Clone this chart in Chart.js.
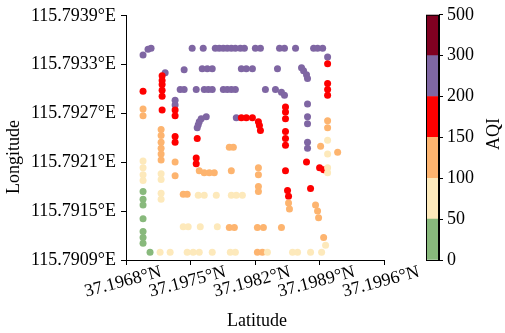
<!DOCTYPE html>
<html>
<head>
<meta charset="utf-8">
<script src="https://cdn.jsdelivr.net/npm/chart.js@4.4.0/dist/chart.umd.min.js"></script>
<style>
  html, body { margin: 0; padding: 0; background: #fff; }
  #wrap { position: relative; width: 505px; height: 333px; }
  #wrap canvas { position: absolute; left: 0; top: 0; }
</style>
</head>
<body>
<div id="wrap">
  <canvas id="scatter" width="505" height="333"></canvas>
  <canvas id="cbar" width="505" height="333"></canvas>
</div>
<script>
// axis ticks
const latTicks = [37.1968, 37.1975, 37.1982, 37.1989, 37.1996];
const lonTicks = [115.7909, 115.7915, 115.7921, 115.7927, 115.7933, 115.7939];

// AQI classes (colorbar boundaries + colors)
const aqiBounds = [0, 50, 100, 150, 200, 300, 500];
const aqiColors = ['#88b97c', '#fde9bb', '#fdb46f', '#fe0000', '#7f66a3', '#800021'];

// sample points per AQI class: [latitude, longitude]
const goodPts = [
  [37.196985, 115.791743], [37.196985, 115.791647], [37.196985, 115.791575], [37.196985, 115.791406],
  [37.196985, 115.791249], [37.196985, 115.791177], [37.196985, 115.791105], [37.197061, 115.790996]
];

const moderatePts = [
  [37.196985, 115.792117], [37.196985, 115.792033], [37.196985, 115.791948], [37.196985, 115.791876],
  [37.197181, 115.791960], [37.197181, 115.791888], [37.197181, 115.791719], [37.197181, 115.791647],
  [37.197584, 115.791695], [37.197649, 115.791695], [37.197780, 115.791695], [37.197943, 115.791695],
  [37.197997, 115.791695], [37.198063, 115.791695],
  [37.197421, 115.791310], [37.197475, 115.791310], [37.197606, 115.791310], [37.197791, 115.791310],
  [37.197170, 115.790996], [37.197279, 115.790996], [37.197464, 115.790996], [37.197529, 115.790996],
  [37.197595, 115.790996], [37.197736, 115.790996], [37.197932, 115.790996], [37.197987, 115.790996],
  [37.198335, 115.790996], [37.198607, 115.790996], [37.198662, 115.790996], [37.198803, 115.790996],
  [37.198923, 115.790996], [37.198966, 115.791081],
  [37.198988, 115.792370], [37.198988, 115.792201], [37.198988, 115.792033], [37.198988, 115.791972]
];

const sensitivePts = [
  [37.196985, 115.792755], [37.196985, 115.792671],
  [37.197181, 115.792502], [37.197181, 115.792430], [37.197181, 115.792346], [37.197181, 115.792273],
  [37.197181, 115.792201], [37.197181, 115.792129],
  [37.197333, 115.792105], [37.197333, 115.791936],
  [37.197921, 115.792285], [37.197965, 115.792285],
  [37.197595, 115.791996], [37.197649, 115.791972], [37.197704, 115.791972], [37.197758, 115.791972],
  [37.197943, 115.791996],
  [37.198237, 115.792033], [37.198237, 115.791948], [37.198237, 115.791804], [37.198237, 115.791743],
  [37.198564, 115.791599], [37.198574, 115.791526],
  [37.198857, 115.791575], [37.198879, 115.791502], [37.198890, 115.791418],
  [37.198988, 115.792611], [37.198988, 115.792526], [37.198912, 115.792298], [37.199097, 115.792225],
  [37.197421, 115.791707], [37.197464, 115.791707],
  [37.197921, 115.791298], [37.197976, 115.791298], [37.198226, 115.791298], [37.198291, 115.791298],
  [37.198487, 115.791298], [37.198945, 115.791177],
  [37.198226, 115.790996], [37.198280, 115.790996]
];

const unhealthyPts = [
  [37.198988, 115.793310], [37.198988, 115.793069], [37.198988, 115.792996], [37.198988, 115.792924],
  [37.197192, 115.793165], [37.197192, 115.793105], [37.197192, 115.793057], [37.197192, 115.792984],
  [37.197192, 115.792912], [37.197192, 115.792743],
  [37.196985, 115.792972],
  [37.197333, 115.792743], [37.197333, 115.792671], [37.197333, 115.792418], [37.197333, 115.792346],
  [37.197573, 115.792394], [37.197562, 115.792153], [37.197562, 115.792081],
  [37.198052, 115.792647], [37.198106, 115.792647], [37.198172, 115.792647], [37.198237, 115.792599],
  [37.198248, 115.792551], [37.198259, 115.792490],
  [37.198531, 115.792779], [37.198531, 115.792719], [37.198531, 115.792635], [37.198531, 115.792478],
  [37.198531, 115.792394], [37.198531, 115.792310], [37.198531, 115.791996],
  [37.198553, 115.791755], [37.198564, 115.791683],
  [37.198759, 115.792105], [37.198803, 115.791779], [37.198901, 115.792033], [37.198945, 115.792008]
];

const veryUnhealthyPts = [
  [37.196985, 115.793418], [37.197039, 115.793490], [37.197072, 115.793502], [37.197518, 115.793502],
  [37.197638, 115.793502], [37.197769, 115.793502], [37.197812, 115.793502], [37.197856, 115.793502],
  [37.197899, 115.793502], [37.197943, 115.793502], [37.197987, 115.793502], [37.198041, 115.793502],
  [37.198085, 115.793502], [37.198204, 115.793502], [37.198259, 115.793502], [37.198466, 115.793502],
  [37.198520, 115.793502], [37.198640, 115.793502], [37.198836, 115.793502], [37.198879, 115.793502],
  [37.198934, 115.793502],
  [37.197225, 115.793201], [37.197431, 115.793237], [37.197627, 115.793249], [37.197682, 115.793249],
  [37.197736, 115.793249], [37.198052, 115.793249], [37.198106, 115.793249], [37.198172, 115.793249],
  [37.198444, 115.793249], [37.198705, 115.793261], [37.198727, 115.793225], [37.198759, 115.793177],
  [37.198770, 115.793129],
  [37.197388, 115.792996], [37.197431, 115.792996], [37.197562, 115.792996], [37.197649, 115.792996],
  [37.197693, 115.792996], [37.197736, 115.792996], [37.197856, 115.792996], [37.197899, 115.792996],
  [37.197943, 115.792996], [37.197987, 115.792996], [37.198313, 115.792996], [37.198422, 115.792996],
  [37.198487, 115.792960], [37.198520, 115.792924],
  [37.197333, 115.792864], [37.197333, 115.792804],
  [37.197671, 115.792659], [37.197616, 115.792635], [37.197595, 115.792599], [37.197584, 115.792563],
  [37.197573, 115.792526], [37.197997, 115.792647],
  [37.198770, 115.792816], [37.198770, 115.792659], [37.198770, 115.792575], [37.198770, 115.792346],
  [37.198770, 115.792273],
  [37.198988, 115.793394]
];

const hazardousPts = [];

const classPts = [goodPts, moderatePts, sensitivePts, unhealthyPts, veryUnhealthyPts, hazardousPts];

const FONT = "'Liberation Serif', 'Times New Roman', serif";
const FS = 18;

const textPlugin = {
  id: 'texts',
  afterDraw(chart) {
    const ctx = chart.ctx;
    const xs = chart.scales.x;
    ctx.save();
    ctx.fillStyle = '#000';
    ctx.font = FS + 'px ' + FONT;
    ctx.textAlign = 'center';
    ctx.textBaseline = 'middle';
    latTicks.forEach(v => {
      const px = xs.getPixelForValue(v);
      ctx.save();
      ctx.translate(px - 3, 282);
      ctx.rotate(-15 * Math.PI / 180);
      ctx.fillText(v.toFixed(4) + '°N', 0, 0);
      ctx.restore();
    });
    ctx.fillText('Latitude', 257, 321);
    ctx.translate(14, 157);
    ctx.rotate(-Math.PI / 2);
    ctx.fillText('Longitude', 0, 0);
    ctx.restore();
  }
};

new Chart(document.getElementById('scatter'), {
  type: 'scatter',
  data: {
    datasets: classPts.map((pts, i) => ({
      data: pts.map(p => ({ x: p[0], y: p[1] })),
      backgroundColor: aqiColors[i],
      borderWidth: 0,
      pointRadius: 3.5
    }))
  },
  options: {
    responsive: false,
    animation: false,
    layout: { padding: { left: 0, right: 121, top: 10, bottom: 0 } },
    plugins: { legend: { display: false }, tooltip: { enabled: false } },
    scales: {
      x: {
        type: 'linear',
        min: latTicks[0],
        max: latTicks[latTicks.length - 1],
        afterBuildTicks: s => { s.ticks = latTicks.map(v => ({ value: v })); },
        afterFit: s => { s.height = 73; },
        ticks: { display: false },
        grid: { drawOnChartArea: false, tickLength: 5, color: '#000' },
        border: { color: '#000', width: 1 }
      },
      y: {
        type: 'linear',
        min: lonTicks[0],
        max: lonTicks[lonTicks.length - 1],
        afterBuildTicks: s => { s.ticks = lonTicks.map(v => ({ value: v })); },
        afterFit: s => { s.width = 126; },
        ticks: {
          callback: v => v.toFixed(4) + '°E',
          font: { family: FONT, size: FS },
          color: '#000',
          padding: 5
        },
        grid: { drawOnChartArea: false, tickLength: 5, color: '#000' },
        border: { color: '#000', width: 1 }
      }
    }
  },
  plugins: [textPlugin]
});

// colorbar
const cbarFrame = {
  id: 'cbarFrame',
  afterDraw(chart) {
    const a = chart.chartArea, ctx = chart.ctx;
    ctx.save();
    ctx.strokeStyle = '#000';
    ctx.lineWidth = 1;
    ctx.strokeRect(a.left + 0.5, a.top + 0.5, a.right - a.left - 1, a.bottom - a.top);
    ctx.fillStyle = '#000';
    ctx.font = FS + 'px ' + FONT;
    ctx.textAlign = 'center';
    ctx.textBaseline = 'middle';
    ctx.translate(494, 134);
    ctx.rotate(-Math.PI / 2);
    ctx.fillText('AQI', 0, 0);
    ctx.restore();
  }
};

new Chart(document.getElementById('cbar'), {
  type: 'bar',
  data: {
    labels: [''],
    datasets: aqiColors.map(c => ({
      data: [1],
      backgroundColor: c,
      borderWidth: 0,
      barPercentage: 1,
      categoryPercentage: 1
    }))
  },
  options: {
    responsive: false,
    animation: false,
    layout: { padding: { left: 426, right: 0, top: 10, bottom: 73 } },
    plugins: { legend: { display: false }, tooltip: { enabled: false } },
    scales: {
      x: { display: false, stacked: true },
      y: {
        position: 'right',
        stacked: true,
        min: 0,
        max: aqiBounds.length - 1,
        afterBuildTicks: s => { s.ticks = aqiBounds.map((b, i) => ({ value: i })); },
        afterFit: s => { s.width = 66; },
        ticks: {
          callback: v => aqiBounds[v],
          font: { family: FONT, size: FS },
          color: '#000',
          padding: 4
        },
        grid: { drawOnChartArea: false, tickLength: 4, color: '#000' },
        border: { color: '#000', width: 1 }
      }
    }
  },
  plugins: [cbarFrame]
});
</script>
</body>
</html>
